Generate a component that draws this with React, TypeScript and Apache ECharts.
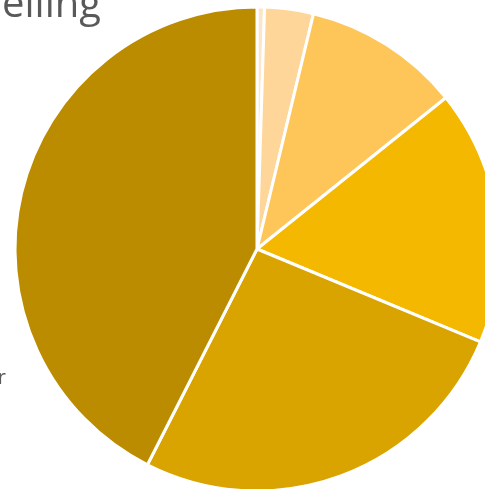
import React, { useEffect, useRef } from "react";
import * as echarts from "echarts";

const categories = ["A", "B", "C", "D", "E", "F"];
const values = [0.5, 3.25, 10.5, 17.0, 26.2, 42.5];
const colors = ["#FCE6CB", "#FFD699", "#FEC659", "#F4B800", "#D9A300", "#BC8C00"];
const titleText = "Ceiling";
const sideText = "Other";

export default function App() {
  const ref = useRef<HTMLDivElement>(null);
  useEffect(() => {
    if (!ref.current) return;
    const chart = echarts.init(ref.current, null, { renderer: "svg" });
    chart.setOption({
      animation: false,
      graphic: [
        {
          type: "text",
          x: 101,
          y: -19,
          style: {
            text: titleText,
            fontFamily: "Open Sans",
            fontSize: 40,
            fill: "#595959",
            align: "right",
          },
        },
        {
          type: "text",
          x: 6,
          y: 366,
          style: {
            text: sideText,
            fontFamily: "Open Sans",
            fontSize: 20,
            fill: "#595959",
            align: "right",
          },
        },
      ],
      series: [
        {
          type: "pie",
          center: [257, 249],
          radius: 242,
          startAngle: 90,
          clockwise: true,
          label: { show: false },
          labelLine: { show: false },
          emphasis: { disabled: true },
          itemStyle: { borderColor: "#ffffff", borderWidth: 3 },
          data: categories.map((c, i) => ({
            name: c,
            value: values[i],
            itemStyle: { color: colors[i] },
          })),
        },
      ],
    });
    return () => chart.dispose();
  }, []);
  return (
    <div
      ref={ref}
      style={{ position: "fixed", left: 0, top: 0, width: 485, height: 489 }}
    />
  );
}
